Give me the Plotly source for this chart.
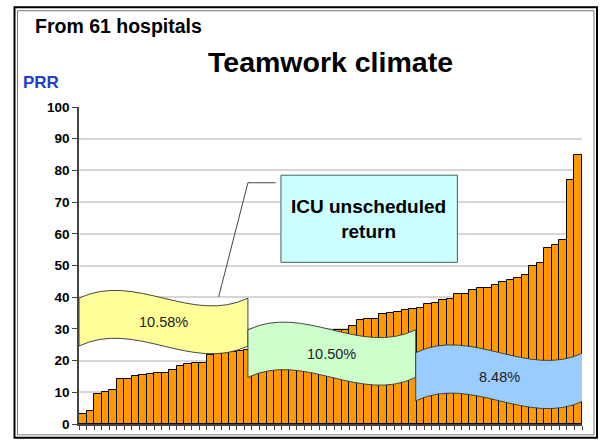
import plotly.graph_objects as go

# PRR per hospital, sorted ascending
hospitals = list(range(1, 68))
prr = [3.3, 4.0, 9.5, 10.0, 10.6, 14.3, 14.3, 15.0, 15.5, 15.8, 16.0, 16.0,
       17.1, 18.3, 19.0, 19.3, 19.3, 21.9, 22.1, 22.5, 22.8, 22.9,
       23.3, 23.6, 24.1, 24.6, 25.2, 25.8, 26.3, 26.9, 27.6, 28.2, 28.9, 29.4,
       29.8, 29.8, 31.0, 32.9, 33.2, 33.2, 34.7, 35.1, 35.4, 35.9, 36.3, 36.7,
       37.7, 38.3, 39.1, 39.4, 41.0, 41.0, 42.2, 42.9, 42.9, 44.0, 44.7, 45.4,
       46.0, 47.1, 49.8, 50.8, 55.4, 56.6, 58.2, 76.9, 84.9]

y_ticks = list(range(0, 101, 10))

# wave banners: label, x-start, x-end, top, bottom, fill
banner_labels = ["10.58%", "10.50%", "8.48%"]
banner_x0 = [0.5, 23.0, 45.35]
banner_x1 = [23.0, 45.35, 67.7]
banner_top = [39.7, 29.7, 22.5]
banner_bottom = [24.6, 14.7, 7.3]
banner_fill = ["#ffff99", "#ccffcc", "#99ccff"]

W, H = 601, 444
L, R, T, B = 79, 582, 107, 428


def px(x):
    return (x - L) / (R - L)


def py(y):
    return (B - y) / (B - T)


def wave(x0, x1, yt, yb, a=8.5):
    w = x1 - x0
    return (f"M {x0},{yt} C {x0 + w/3},{yt + a} {x0 + 2*w/3},{yt - a} {x1},{yt} "
            f"L {x1},{yb} C {x0 + 2*w/3},{yb - a} {x0 + w/3},{yb + a} {x0},{yb} Z")


fig = go.Figure(go.Bar(
    x=hospitals, y=prr,
    marker=dict(color="#ff9900", line=dict(color="#000000", width=1)),
    showlegend=False,
))

shapes = []
annotations = []

for lab, x0, x1, yt, yb, col in zip(banner_labels, banner_x0, banner_x1,
                                     banner_top, banner_bottom, banner_fill):
    shapes.append(dict(type="path", xref="x", yref="y", path=wave(x0, x1, yt, yb),
                       fillcolor=col, line=dict(color="#444444", width=1), layer="above"))
    annotations.append(dict(x=(x0 + x1) / 2, y=(yt + yb) / 2, xref="x", yref="y",
                            text=lab, showarrow=False,
                            font=dict(size=14.5, color="#222222")))

# callout box + leader line
shapes.append(dict(type="rect", xref="x", yref="y", x0=27.4, x1=50.9, y0=51.0, y1=78.5,
                   fillcolor="#ccffff", line=dict(color="#336666", width=1), layer="above"))
shapes.append(dict(type="path", xref="x", yref="y",
                   path="M 26.7,76.1 L 23.0,76.1 L 19.1,40.1",
                   line=dict(color="#444444", width=1), layer="above"))
annotations.append(dict(x=39.1, y=64.8, xref="x", yref="y",
                        text="<b>ICU unscheduled<br>return</b>", showarrow=False,
                        font=dict(size=19, color="#000000")))

# slide frame
shapes.append(dict(type="rect", xref="paper", yref="paper",
                   x0=px(14.5), x1=px(597), y0=py(442), y1=py(6),
                   line=dict(color="#000000", width=2), layer="above"))
shapes.append(dict(type="rect", xref="paper", yref="paper",
                   x0=px(17.5), x1=px(594), y0=py(439), y1=py(9.5),
                   line=dict(color="#777777", width=1), layer="above"))

annotations += [
    dict(x=px(33), y=py(25), xref="paper", yref="paper", xanchor="left", yanchor="middle",
         text="<b>From 61 hospitals</b>", showarrow=False,
         font=dict(size=19.5, color="#000000")),
    dict(x=px(330), y=py(61), xref="paper", yref="paper", xanchor="center", yanchor="middle",
         text="<b>Teamwork climate</b>", showarrow=False,
         font=dict(size=28.5, color="#000000")),
    dict(x=px(21), y=py(82), xref="paper", yref="paper", xanchor="left", yanchor="middle",
         text="<b>PRR</b>", showarrow=False,
         font=dict(size=17, color="#1f3fd0")),
]

fig.update_layout(
    width=W, height=H,
    margin=dict(l=L, r=W - R, t=T, b=H - B),
    paper_bgcolor="white", plot_bgcolor="white",
    font=dict(family="Arial, Liberation Sans, sans-serif", color="#000000"),
    bargap=0,
    shapes=shapes,
    annotations=annotations,
    xaxis=dict(range=[0.5, 67.5], showticklabels=False, showgrid=False, zeroline=False,
               showline=True, linecolor="#444444", linewidth=1.5,
               ticks="outside", tickvals=[k + 0.5 for k in range(68)],
               ticklen=4, tickcolor="#444444"),
    yaxis=dict(range=[0, 100], tickvals=y_ticks, showgrid=True, gridcolor="#d6d6d6",
               gridwidth=1.5, zeroline=False, showline=True, linecolor="#444444",
               linewidth=1.5, ticks="outside", ticklen=5, tickcolor="#444444",
               tickfont=dict(size=13.5, weight="bold", color="#000000")),
)

fig.write_html("out.html", config={"displayModeBar": False},
               post_script="document.body.style.margin='0';")
